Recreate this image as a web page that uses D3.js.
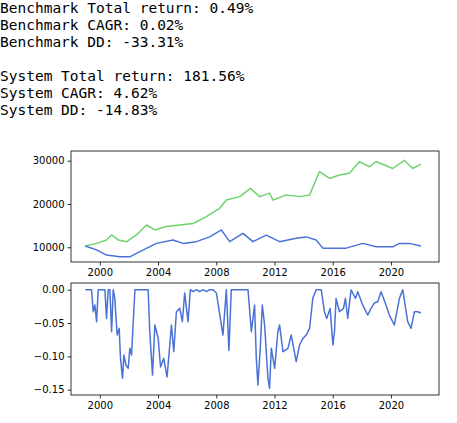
<!DOCTYPE html><html><head><meta charset="utf-8">
<script src="https://cdn.jsdelivr.net/npm/d3@7"></script>
<style>body{margin:0;background:#fff}</style></head><body>
<svg id="c" width="457" height="423"></svg>
<script>
const statLines=["Benchmark Total return: 0.49%","Benchmark CAGR: 0.02%","Benchmark DD: -33.31%","","System Total return: 181.56%","System CAGR: 4.62%","System DD: -14.83%"];
const sysYears=[1999.00,1999.78,2000.46,2000.81,2001.27,2001.85,2002.52,2003.20,2003.78,2004.57,2005.49,2006.41,2007.32,2008.23,2008.69,2009.61,2010.34,2010.98,2011.66,2011.89,2012.81,2013.72,2014.41,2015.09,2015.78,2016.46,2017.15,2017.84,2018.52,2018.98,2020.12,2020.92,2021.49,2022.06];
const sysVals=[10300,10900,11700,12850,11700,11300,12850,15150,14000,14800,15150,15500,17100,19000,20900,21700,23600,21700,22500,20900,22100,21700,22100,27500,25900,26700,27100,29800,28600,29800,28200,30100,28200,29200];
const benchYears=[1999.00,1999.78,2000.46,2001.37,2002.06,2002.75,2003.89,2005.03,2005.72,2006.63,2007.55,2008.35,2008.92,2009.83,2010.52,2011.43,2012.35,2013.49,2014.18,2014.86,2015.32,2016.01,2016.92,2018.06,2018.98,2020.12,2020.58,2021.26,2022.06];
const benchVals=[10300,9400,8200,7800,7800,9000,10900,11700,10900,11300,12400,14000,11300,13200,11300,12800,11300,12100,12400,11700,9800,9800,9800,10900,10100,10100,10900,10900,10300];
const ddYears=[1999.00,1999.43,1999.55,1999.66,1999.78,1999.89,2000.12,2000.35,2000.46,2000.58,2000.69,2000.81,2000.92,2001.03,2001.19,2001.33,2001.42,2001.56,2001.65,2001.79,2001.95,2002.06,2002.18,2002.41,2002.63,2002.86,2003.32,2003.43,2003.62,2003.78,2004.01,2004.17,2004.39,2004.62,2004.92,2005.08,2005.26,2005.49,2005.67,2005.83,2006.06,2006.22,2006.41,2006.63,2006.86,2007.09,2007.32,2007.55,2007.78,2008.01,2008.46,2008.69,2008.87,2009.03,2009.26,2009.61,2010.18,2010.41,2010.63,2010.75,2010.86,2011.02,2011.16,2011.32,2011.55,2011.66,2011.78,2012.01,2012.23,2012.35,2012.58,2012.92,2013.15,2013.49,2013.72,2013.95,2014.18,2014.41,2014.63,2014.86,2015.21,2015.43,2015.59,2015.82,2016.01,2016.12,2016.23,2016.46,2016.74,2016.87,2017.03,2017.26,2017.56,2017.72,2018.06,2018.41,2018.63,2018.86,2019.09,2019.32,2019.66,2019.89,2020.23,2020.58,2020.81,2021.15,2021.38,2021.61,2021.83,2022.06];
const ddVals=[0,0,-0.033,-0.023,-0.048,0,0,0,-0.043,0,0,-0.063,0,-0.013,-0.068,-0.058,-0.103,-0.133,-0.098,-0.113,-0.118,-0.088,-0.098,0,0,0,0,-0.063,-0.128,-0.053,-0.073,-0.116,-0.103,-0.131,-0.053,-0.093,-0.033,-0.028,-0.048,-0.005,-0.048,0,-0.003,0,-0.003,0,-0.003,0,0,-0.005,-0.068,0,-0.091,0,0,0,0,-0.063,-0.023,-0.103,-0.143,-0.088,-0.023,-0.053,-0.133,-0.148,-0.088,-0.118,-0.063,-0.053,-0.093,-0.088,-0.068,-0.108,-0.083,-0.073,-0.068,-0.058,-0.013,0,0,-0.033,-0.043,-0.028,-0.083,-0.063,-0.013,-0.033,-0.028,-0.013,-0.043,0,-0.013,-0.003,-0.023,-0.038,-0.028,-0.020,-0.018,-0.003,-0.023,-0.038,-0.053,-0.013,0,-0.048,-0.058,-0.033,-0.033,-0.035];
const topTicks=[10000,20000,30000];
const botTicks=[0,-0.05,-0.10,-0.15];
const xTicks=[2000,2004,2008,2012,2016,2020];

const svg=d3.select("#c");
svg.selectAll("text.stat").data(statLines).join("text").attr("class","stat")
 .attr("x",0).attr("y",(d,i)=>13+i*17).attr("font-family","DejaVu Sans Mono").attr("font-size",14.5).attr("fill","#000")
 .attr("xml:space","preserve").text(d=>d);

const L=71,R=439;
function panel(top,bottom,ydom,ticks,fmt,series){
  const x=d3.scaleLinear().domain([1998.02,2023.3]).range([L,R]);
  const y=d3.scaleLinear().domain(ydom).range([bottom,top]);
  const g=svg.append("g");
  series.forEach(s=>{
    g.append("path").datum(s.ys.map((t,i)=>[t,s.vs[i]])).attr("fill","none").attr("stroke",s.c).attr("stroke-width",1.5)
     .attr("stroke-linejoin","round").attr("d",d3.line().x(d=>x(d[0])).y(d=>y(d[1])));
  });
  g.append("g").attr("transform",`translate(0,${bottom})`).call(d3.axisBottom(x).tickValues(xTicks).tickFormat(d3.format("d")).tickSize(3.5).tickPadding(3));
  g.append("g").attr("transform",`translate(${L},0)`).call(d3.axisLeft(y).tickValues(ticks).tickFormat(fmt).tickSize(3.5).tickPadding(3));
  g.selectAll(".domain").remove();
  g.selectAll(".tick text").attr("font-family","DejaVu Sans").attr("font-size",10).attr("fill","#000");
  g.selectAll(".tick line").attr("stroke","#000").attr("stroke-width",0.8);
  g.append("rect").attr("x",L).attr("y",top).attr("width",R-L).attr("height",bottom-top).attr("fill","none").attr("stroke","#000").attr("stroke-width",0.8);
}
panel(151,262,[6600,32240],topTicks,d3.format("d"),[
  {ys:sysYears,vs:sysVals,c:"#6fd36f"},{ys:benchYears,vs:benchVals,c:"#4a72d6"}]);
panel(283,395,[-0.158,0.0101],botTicks,d3.format(".2f"),[{ys:ddYears,vs:ddVals,c:"#4a72d6"}]);
</script></body></html>
